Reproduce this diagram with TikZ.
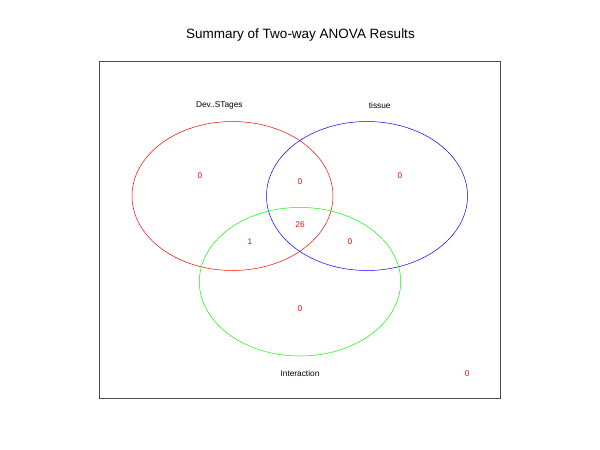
\documentclass[tikz,border=0pt]{standalone}
\usepackage{fontspec}
\setmainfont{Liberation Sans}
\begin{document}
\begin{tikzpicture}[x=1pt,y=-1pt,
  venn/.style={line width=0.5pt},
  cnt/.style={text=red,font=\fontsize{8.3}{10}\selectfont,inner sep=0pt},
  lbl/.style={text=black,font=\fontsize{8.3}{10}\selectfont,inner sep=0pt}]
\useasboundingbox (0,0) rectangle (600,450);
\fill[white] (0,0) rectangle (600,450);
\node[font=\fontsize{13.5}{15}\selectfont,inner sep=0pt] (title) at (300.5,35) {Summary of Two-way ANOVA Results};
\draw[line width=0.5pt,black!70] (99,61) rectangle (500.5,398);
\draw[venn,red] (232.5,196) ellipse [x radius=100.5, y radius=74.5];
\draw[venn,blue] (367,196) ellipse [x radius=100.5, y radius=74.5];
\draw[venn,green] (300,281.7) ellipse [x radius=100.7, y radius=74.3];
\node[lbl] (la) at (219.3,105.5) {Dev..STages};
\node[lbl] (lb) at (379.7,106) {tissue};
\node[lbl] (lc) at (300,374) {Interaction};
\node[cnt] (n1) at (200,175.7) {0};
\node[cnt] (n2) at (300,181.5) {0};
\node[cnt] (n3) at (400,175.7) {0};
\node[cnt] (n4) at (300,225) {26};
\node[cnt] (n5) at (250,242) {1};
\node[cnt] (n6) at (350,242) {0};
\node[cnt] (n7) at (300,309) {0};
\node[cnt] (n8) at (467.3,374) {0};
\end{tikzpicture}
\end{document}
